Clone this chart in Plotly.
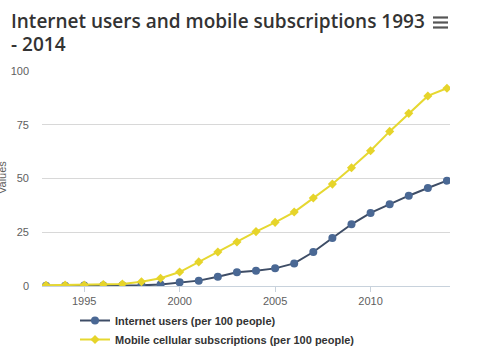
import plotly.graph_objects as go

# World indicators, 1993-2014
years = list(range(1993, 2015))
internet_users = [0.1, 0.1, 0.2, 0.2, 0.3, 0.3, 0.7, 1.7, 2.5, 4.3, 6.4, 7.1,
                  8.2, 10.5, 15.8, 22.3, 28.7, 34.0, 38.0, 42.0, 45.6, 49.0]
mobile_subs = [0.3, 0.4, 0.5, 0.7, 0.9, 2.0, 3.6, 6.5, 11.2, 15.8, 20.5, 25.3,
               29.6, 34.4, 40.9, 47.4, 55.0, 62.9, 71.9, 80.3, 88.4, 92.0]
y_ticks = [0, 25, 50, 75, 100]
x_ticks = [1995, 2000, 2005, 2010]

title_lines = ["Internet users and mobile subscriptions 1993", "- 2014"]
internet_name = "Internet users (per 100 people)"
mobile_name = "Mobile cellular subscriptions (per 100 people)"

W, H = 499, 346
L, R, T, B = 42, 49, 71, 60
plot_w, plot_h = W - L - R, H - T - B


def px_x(px):
    return (px - L) / plot_w


def px_y(py):
    return (H - B - py) / plot_h


fig = go.Figure()
fig.add_trace(go.Scatter(
    x=years, y=internet_users, name=internet_name, mode="lines+markers",
    line=dict(color="#3e4d66", width=2),
    marker=dict(symbol="circle", size=8, color="#4a6894"),
))
fig.add_trace(go.Scatter(
    x=years, y=mobile_subs, name=mobile_name, mode="lines+markers",
    line=dict(color="#e6d831", width=2),
    marker=dict(symbol="diamond", size=7, color="#e6d42a"),
))

# Menu icon next to the title
menu_shapes = []
for py in (17.5, 22.5, 27.5):
    menu_shapes.append(dict(
        type="line", xref="paper", yref="paper",
        x0=px_x(433), x1=px_x(448), y0=px_y(py), y1=px_y(py),
        line=dict(color="#555555", width=2.2),
    ))

title_font = dict(family="Open Sans", size=19, color="#333333", weight=600)
annotations = [
    dict(text=title_lines[0], xref="paper", yref="paper",
         x=px_x(9), y=px_y(21), xanchor="left", yanchor="middle",
         showarrow=False, font=title_font),
    dict(text=title_lines[1], xref="paper", yref="paper",
         x=px_x(9), y=px_y(44), xanchor="left", yanchor="middle",
         showarrow=False, font=title_font),
    dict(text="Values", xref="paper", yref="paper", x=px_x(2), y=px_y(178),
         xanchor="center", yanchor="middle", textangle=-90, showarrow=False,
         font=dict(family="Liberation Sans", size=11, color="#606060")),
]

fig.update_layout(
    width=W, height=H,
    margin=dict(l=L, r=R, t=T, b=B, autoexpand=False),
    paper_bgcolor="white", plot_bgcolor="white",
    xaxis=dict(
        range=[1992.79, 2014.16], tickvals=x_ticks, showgrid=False,
        showline=True, linecolor="#c8d2dc", linewidth=1,
        ticks="outside", ticklen=5, tickcolor="#c8d2dc",
        tickfont=dict(family="Liberation Sans", size=11, color="#606060"),
        zeroline=False,
    ),
    yaxis=dict(
        range=[0, 100], tickvals=y_ticks, showgrid=True, gridcolor="#d8d8d8",
        gridwidth=1, zeroline=False, ticks="", ticklabelstandoff=12,
        tickfont=dict(family="Liberation Sans", size=11, color="#606060"),
    ),
    legend=dict(
        orientation="v", x=px_x(75), xanchor="left", y=px_y(306), yanchor="top",
        font=dict(family="Liberation Sans", size=11, color="#333333", weight="bold"),
        tracegroupgap=0, itemwidth=30, bgcolor="rgba(0,0,0,0)",
    ),
    annotations=annotations,
    shapes=menu_shapes,
    showlegend=True,
)

fig.write_html("out.html")
